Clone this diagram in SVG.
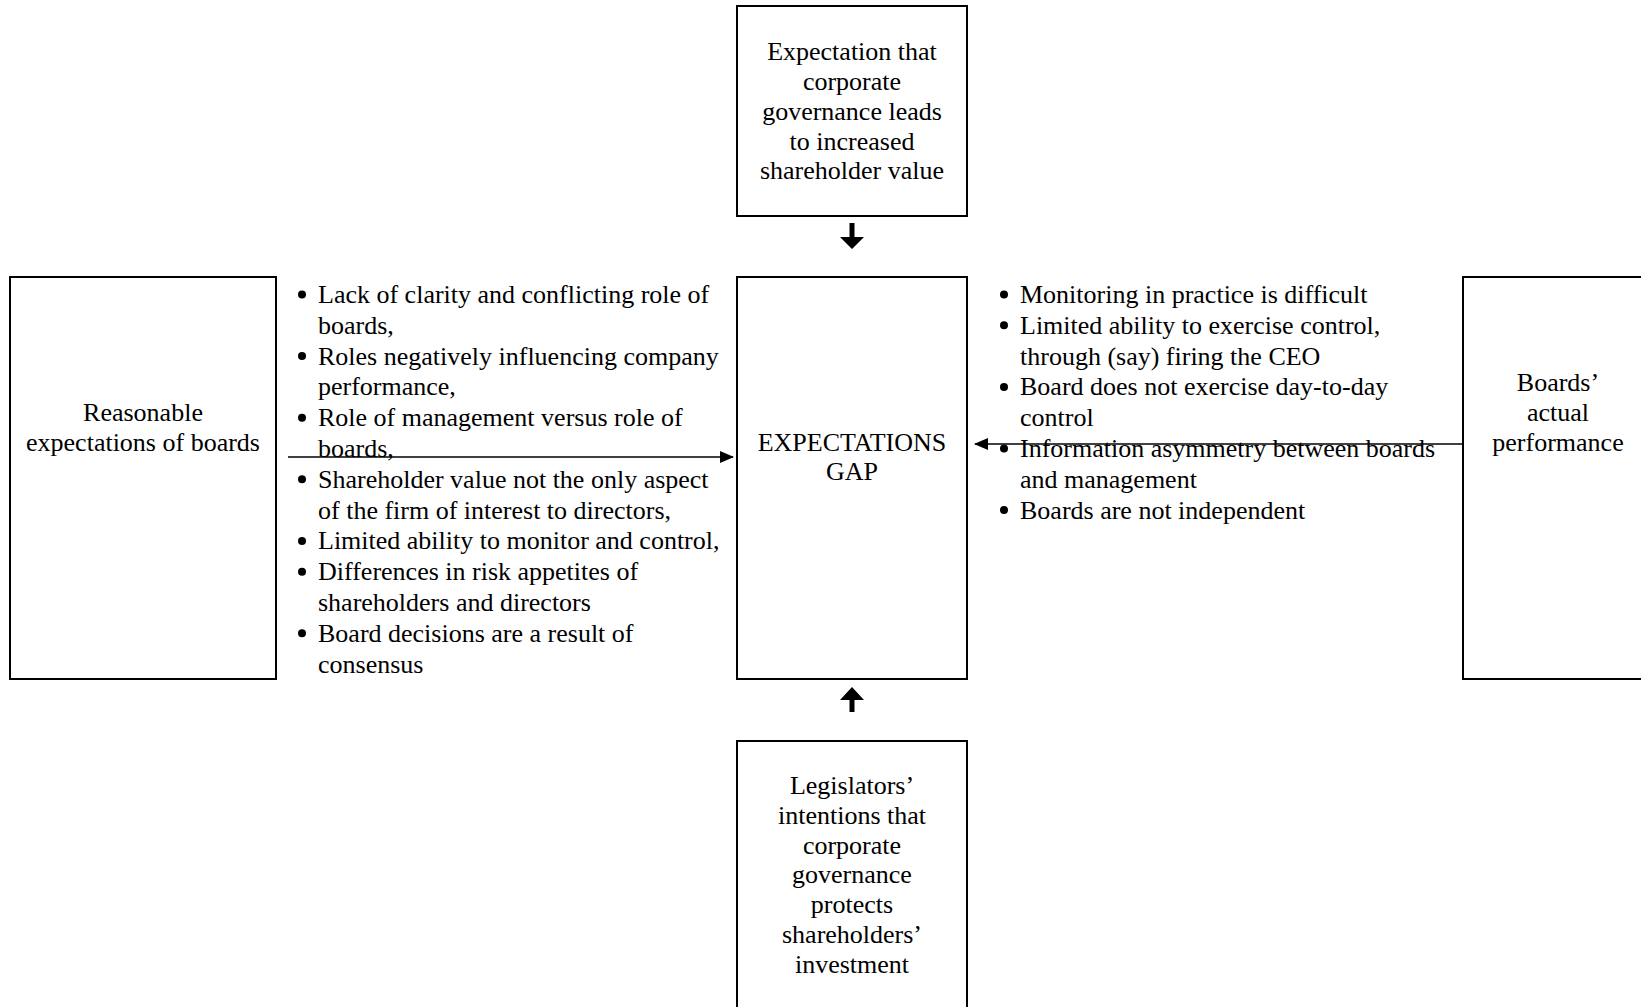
<svg xmlns="http://www.w3.org/2000/svg" width="1641" height="1007" viewBox="0 0 1641 1007">
<style>
.box{fill:#fff;stroke:#000;stroke-width:2}
text{font-family:"Liberation Serif","Times New Roman",serif;font-size:26px;fill:#000}
.c{text-anchor:middle}
.ln{stroke:#000;stroke-width:1.6;fill:none}
.blk{fill:#000;stroke:none}
.dot{fill:#000}
</style>
<defs>
<marker id="ah" markerWidth="14" markerHeight="12" refX="13" refY="6" orient="auto" markerUnits="userSpaceOnUse">
<path d="M0,0 L14,6 L0,12 Z" fill="#000"/>
</marker>
</defs>
<rect width="1641" height="1007" fill="#fff"/>

<g id="top">
<rect class="box" x="737" y="6" width="230" height="210"/>
<text class="c" x="852" y="60">Expectation that</text>
<text class="c" x="852" y="90">corporate</text>
<text class="c" x="852" y="120">governance leads</text>
<text class="c" x="852" y="149.5">to increased</text>
<text class="c" x="852" y="179">shareholder value</text>
</g>

<g id="gap">
<rect class="box" x="737" y="277" width="230" height="402"/>
<text class="c" x="852" y="451">EXPECTATIONS</text>
<text class="c" x="852" y="480">GAP</text>
</g>

<g id="reasonable">
<rect class="box" x="10" y="277" width="266" height="402"/>
<text class="c" x="143" y="421">Reasonable</text>
<text class="c" x="143" y="451">expectations of boards</text>
</g>

<g id="actual">
<rect class="box" x="1463" y="277" width="192" height="402"/>
<text class="c" x="1558" y="391">Boards’</text>
<text class="c" x="1558" y="421">actual</text>
<text class="c" x="1558" y="451">performance</text>
</g>

<g id="legislators">
<rect class="box" x="737" y="741" width="230" height="280"/>
<text class="c" x="852" y="794">Legislators’</text>
<text class="c" x="852" y="823.8">intentions that</text>
<text class="c" x="852" y="853.6">corporate</text>
<text class="c" x="852" y="883.4">governance</text>
<text class="c" x="852" y="913.2">protects</text>
<text class="c" x="852" y="943">shareholders’</text>
<text class="c" x="852" y="972.8">investment</text>
</g>

<g id="left-list">
<circle class="dot" cx="302" cy="294.5" r="4"/><text x="318" y="303">Lack of clarity and conflicting role of</text>
<text x="318" y="333.8">boards,</text>
<circle class="dot" cx="302" cy="356.1" r="4"/><text x="318" y="364.6">Roles negatively influencing company</text>
<text x="318" y="395.4">performance,</text>
<circle class="dot" cx="302" cy="417.7" r="4"/><text x="318" y="426.2">Role of management versus role of</text>
<text x="318" y="457">boards,</text>
<circle class="dot" cx="302" cy="479.3" r="4"/><text x="318" y="487.8">Shareholder value not the only aspect</text>
<text x="318" y="518.6">of the firm of interest to directors,</text>
<circle class="dot" cx="302" cy="540.9" r="4"/><text x="318" y="549.4">Limited ability to monitor and control,</text>
<circle class="dot" cx="302" cy="571.7" r="4"/><text x="318" y="580.2">Differences in risk appetites of</text>
<text x="318" y="611">shareholders and directors</text>
<circle class="dot" cx="302" cy="633.3" r="4"/><text x="318" y="641.8">Board decisions are a result of</text>
<text x="318" y="672.6">consensus</text>
</g>

<g id="right-list">
<circle class="dot" cx="1004" cy="294.5" r="4"/><text x="1020" y="303">Monitoring in practice is difficult</text>
<circle class="dot" cx="1004" cy="325.3" r="4"/><text x="1020" y="333.8">Limited ability to exercise control,</text>
<text x="1020" y="364.6">through (say) firing the CEO</text>
<circle class="dot" cx="1004" cy="386.9" r="4"/><text x="1020" y="395.4">Board does not exercise day-to-day</text>
<text x="1020" y="426.2">control</text>
<circle class="dot" cx="1004" cy="448.5" r="4"/><text x="1020" y="457">Information asymmetry between boards</text>
<text x="1020" y="487.8">and management</text>
<circle class="dot" cx="1004" cy="510.1" r="4"/><text x="1020" y="518.6">Boards are not independent</text>
</g>

<g id="connectors">
<line class="ln" x1="288" y1="457" x2="733" y2="457" marker-end="url(#ah)"/>
<line class="ln" x1="1463" y1="444" x2="975" y2="444" marker-end="url(#ah)"/>
<path class="blk" d="M849.5,223 H854.5 V237 H864 L852,249 L840,237 H849.5 Z"/>
<path class="blk" d="M852,687 L864,700 H854.5 V712 H849.5 V700 H840 Z"/>
</g>
</svg>
